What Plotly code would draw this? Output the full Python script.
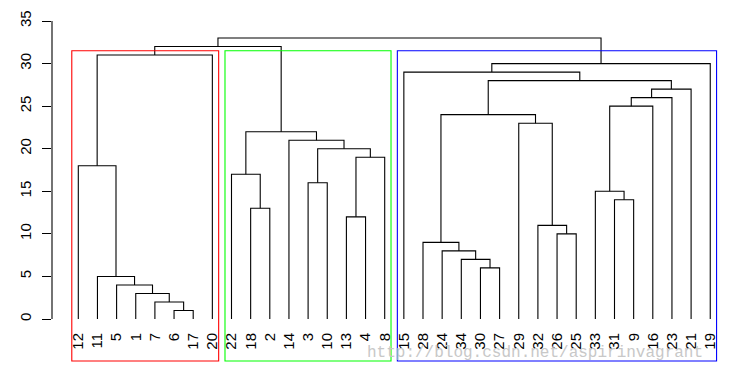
import plotly.graph_objects as go

# ---------------- data (hclust-style merge table) ----------------
# negative = observation label, positive = index (1-based) of earlier merge
merge_left = [-6, -7, -1, -5, -11, -30, -34, -24, -28, -26, -32, -13, -18, -31, -33, -3,
              -22, -12, 12, 16, -14, 17, -29, 9, 15, 25, 26, 24, -15, 29, 18, 31, 32]
merge_right = [-17, 1, 2, 3, 4, -27, 6, 7, 8, -25, 10, -4, -2, -9, 14, -10,
               13, 5, -8, 19, 20, 21, 11, 23, -16, -23, -21, 27, 28, -19, -20, 22, 30]
merge_height = [1, 2, 3, 4, 5, 6, 7, 8, 9, 10, 11, 12, 13, 14, 15, 16,
                 17, 18, 19, 20, 21, 22, 23, 24, 25, 26, 27, 28, 29, 30, 31, 32, 33]
n_clusters = 3
cluster_colors = ["#FF0000", "#00FF00", "#0000FF"]
y_ticks = [0, 5, 10, 15, 20, 25, 30, 35]
watermark = "http://blog.csdn.net/aspirinvagrant"

# ---------------- layout geometry ----------------
W, H = 748, 383
LEFT = 52
X0_PX, X_STEP = 78.3, 19.15
Y0_PX, Y_STEP = 319.0, 8.514
xr = [1 + (LEFT - X0_PX) / X_STEP, 1 + (W - X0_PX) / X_STEP]
yr = [(Y0_PX - H) / Y_STEP, Y0_PX / Y_STEP]

# ---------------- dendrogram layout ----------------
n_merge = len(merge_height)


def leaves(node):
    if node < 0:
        return [-node]
    return leaves(merge_left[node - 1]) + leaves(merge_right[node - 1])


order = leaves(n_merge)
pos = {lab: i + 1 for i, lab in enumerate(order)}
node_x = {}


def xof(node):
    if node < 0:
        return pos[-node]
    return node_x[node]


def hof(node):
    return 0 if node < 0 else merge_height[node - 1]


for k in range(1, n_merge + 1):
    node_x[k] = (xof(merge_left[k - 1]) + xof(merge_right[k - 1])) / 2

lx, ly = [], []
for k in range(1, n_merge + 1):
    a, b = merge_left[k - 1], merge_right[k - 1]
    h = merge_height[k - 1]
    lx += [xof(a), xof(a), xof(b), xof(b), None]
    ly += [hof(a), h, h, hof(b), None]

fig = go.Figure()
fig.add_trace(go.Scatter(x=lx, y=ly, mode="lines", line=dict(color="black", width=1.1),
                         hoverinfo="skip", showlegend=False))

# ---------------- rect.hclust (k clusters) ----------------
nodes = [n_merge]
while len(nodes) < n_clusters:
    top = max((n for n in nodes if n > 0), key=hof)
    i = nodes.index(top)
    nodes[i:i + 1] = [merge_left[top - 1], merge_right[top - 1]]
sizes = [len(leaves(n)) for n in nodes]
rect_top = (merge_height[-1 - (n_clusters - 1)] + merge_height[-1 - (n_clusters - 2)]) / 2
rect_bottom = yr[0] + (H - 361) / Y_STEP
start = 0
for s, c in zip(sizes, cluster_colors):
    fig.add_shape(type="rect", xref="x", yref="y", x0=start + 0.66, x1=start + s + 0.33,
                  y0=rect_bottom, y1=rect_top, line=dict(color=c, width=1.1))
    start += s

# y axis line (R style, only spanning ticks)
fig.add_shape(type="line", xref="paper", yref="y", x0=0, x1=0, y0=y_ticks[0], y1=y_ticks[-1],
              line=dict(color="black", width=1.1))

# watermark
fig.add_annotation(x=(365 - LEFT) / (W - LEFT), y=(H - 353) / H, xref="paper", yref="paper",
                   xanchor="left", yanchor="middle", showarrow=False, text=watermark,
                   font=dict(family="Liberation Mono", size=16, color="rgb(200,200,200)"))

font = dict(family="Liberation Sans, Arial", size=15, color="black")
fig.update_layout(
    width=W, height=H, margin=dict(l=LEFT, r=0, t=0, b=0, pad=0, autoexpand=False),
    plot_bgcolor="white", paper_bgcolor="white", showlegend=False,
    font=font,
    xaxis=dict(range=xr, showgrid=False, zeroline=False, showline=False, ticks="",
               tickvals=[pos[l] for l in order], ticktext=[str(l) for l in order],
               tickangle=-90, tickfont=font, anchor="free", automargin=False,
               position=(0 - yr[0]) / (yr[1] - yr[0]), ticklabelstandoff=10),
    yaxis=dict(range=yr, showgrid=False, zeroline=False, showline=False, automargin=False,
               tickvals=y_ticks, ticktext=[str(v) for v in y_ticks], ticks="outside",
               ticklen=9, tickwidth=1.1, tickcolor="black", tickangle=-90, tickfont=font,
               ticklabelstandoff=5),
)
fig.write_html("out.html", config={"displayModeBar": False},
               post_script="document.body.style.margin='0';document.body.style.padding='0';")
